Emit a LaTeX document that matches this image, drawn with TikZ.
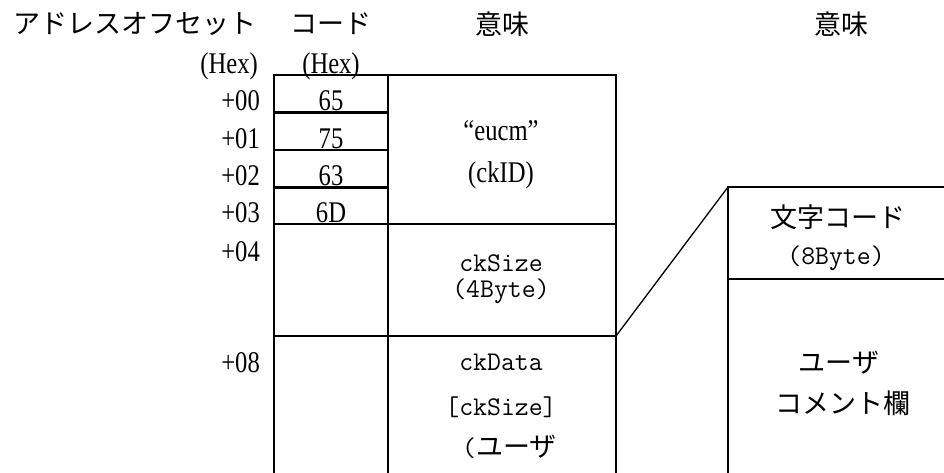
\documentclass[tikz,border=0pt]{standalone}
\usepackage{fontspec}
\usepackage{xcolor}
\newfontfamily\jafont{Noto Sans CJK JP}
\newfontfamily\serifnum[FakeStretch=0.82]{Liberation Serif}

\begin{document}
\begin{tikzpicture}[x=1pt,y=-1pt,
  jp/.style={font=\fontsize{27}{31}\selectfont\jafont, inner sep=0pt},
  num/.style={font=\fontsize{30}{34}\selectfont\serifnum, inner sep=0pt},
  mono/.style={font=\fontsize{27}{31}\selectfont\ttfamily, inner sep=0pt},
  gridline/.style={line width=2.2pt, line cap=rect}]

% Canvas: 944 × 473 px, one unit = 1 px, y grows downward.
\useasboundingbox (0,0) rectangle (944,473);

% ── Header row ───────────────────────────────────────────────────────────────
\node[jp, anchor=west] (hdrAddr)  at (13,24)  {アドレスオフセット};
\node[jp]              (hdrCode)  at (331,24) {コード};
\node[jp]              (hdrMean)  at (502,24) {意味};
\node[jp]              (hdrMeanR) at (841,24) {意味};
\node[num, anchor=east] (hexAddr) at (258,66) {(Hex)};
\node[num]              (hexCode) at (331,66) {(Hex)};

% ── Left table frame ─────────────────────────────────────────────────────────
\draw[gridline] (274,75) -- (616,75);
\foreach \x in {274,388,616}
  \draw[gridline] (\x,75) -- (\x,473);
% byte rows (code column only)
\foreach \y in {112.5,150,187.5}
  \draw[gridline] (274,\y) -- (388,\y);
% field boundaries
\foreach \y in {224,336}
  \draw[gridline] (274,\y) -- (616,\y);

% ── Offsets and byte codes ───────────────────────────────────────────────────
\foreach \i/\off/\val/\y in {0/00/65/101, 1/01/75/139, 2/02/63/176, 3/03/6D/213}
  {
    \node[num, anchor=east] (off\i) at (260,\y) {+\off};
    \node[num]              (code\i) at (331,\y) {\val};
  }
\node[num, anchor=east] (off4) at (260,252) {+04};
\node[num, anchor=east] (off8) at (260,363) {+08};

% ── Meaning column ───────────────────────────────────────────────────────────
\node[num]  (ckID)      at (501,131) {“eucm”};
\node[num]  (ckIDlbl)   at (501,175) {(ckID)};
\node[mono] (ckSize)    at (501,263) {ckSize};
\node[mono] (ckSizeLen) at (501,291) {(4Byte)};
\node[mono] (ckData)    at (501,362) {ckData};
\node[mono] (ckDataLen) at (501,407) {[ckSize]};
\node[mono, anchor=west] (ckDataUser) at (462,447) {(\jafont ユーザ};

% ── ckData breakdown (right table) ───────────────────────────────────────────
\coordinate (dataTop) at (616,336);
\coordinate (subTop)  at (728,187);
\draw[line width=1.3pt] (dataTop) -- (subTop);
\draw[gridline] (subTop) -- (944,187);
\draw[gridline] (subTop) -- (728,473);
\draw[gridline] (728,279) -- (944,279);

\node[jp]   (charCode)    at (838,217) {文字コード};
\node[mono] (charCodeLen) at (836,258) {(8Byte)};
\node[jp]   (userNote)    at (839,363) {ユーザ};
\node[jp]   (userNoteB)   at (843,403) {コメント欄};

\end{tikzpicture}
\end{document}
